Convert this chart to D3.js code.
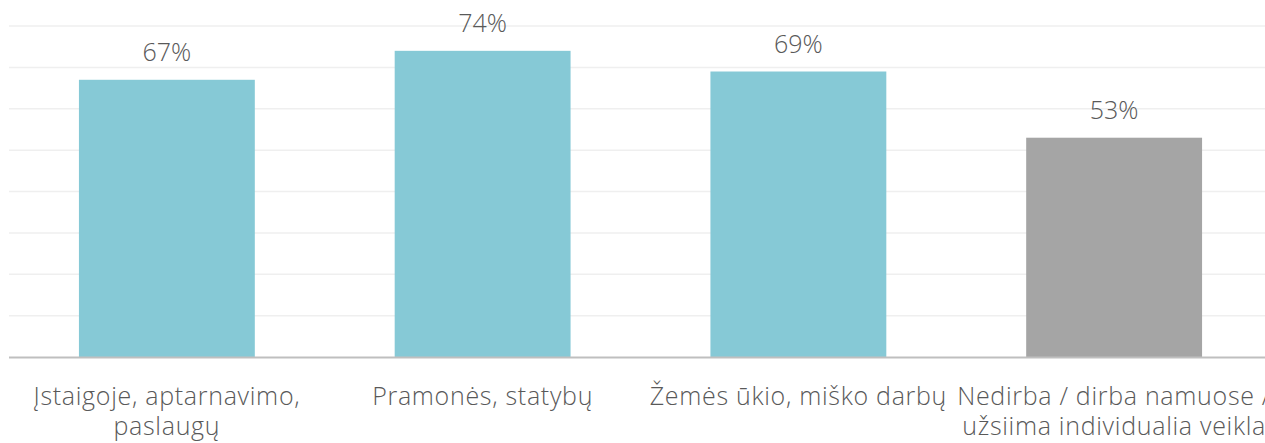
<!DOCTYPE html>
<html>
<head>
<meta charset="utf-8">
<script src="https://cdn.jsdelivr.net/npm/d3@7"></script>
<style>
  body { margin: 0; background: #fff; overflow: hidden; }
  text { font-family: "Open Sans", sans-serif; font-weight: 300; fill: #595959; }
</style>
</head>
<body>
<div id="chart"></div>
<script>
var categories = ["Įstaigoje, aptarnavimo, paslaugų", "Pramonės, statybų", "Žemės ūkio, miško darbų", "Nedirba / dirba namuose / užsiima individualia veikla"];
var values = [67, 74, 69, 53];
var barColors = ["#86c9d6", "#86c9d6", "#86c9d6", "#a5a5a5"];
var gridTicks = [0, 10, 20, 30, 40, 50, 60, 70, 80];

var width = 1265,
    height = 443;

var svg = d3.select("#chart").append("svg")
    .attr("width", width)
    .attr("height", height);

var x = d3.scaleBand()
    .domain(categories)
    .range([9, 1272])
    .paddingInner(0.443)
    .paddingOuter(0.2215);

var y = d3.scaleLinear()
    .domain([0, 80])
    .range([357, 26]);

// gridlines
svg.append("g")
  .selectAll("line")
  .data(gridTicks.slice(1))
  .enter().append("line")
    .attr("x1", 9)
    .attr("x2", width)
    .attr("y1", function(d) { return y(d); })
    .attr("y2", function(d) { return y(d); })
    .attr("stroke", "#efefef")
    .attr("stroke-width", 1.5);

// bars
svg.append("g")
  .selectAll("rect")
  .data(values)
  .enter().append("rect")
    .attr("x", function(d, i) { return x(categories[i]); })
    .attr("y", function(d) { return y(d); })
    .attr("width", x.bandwidth())
    .attr("height", function(d) { return y(0) - y(d); })
    .attr("fill", function(d, i) { return barColors[i]; });

// baseline
svg.append("line")
    .attr("x1", 9)
    .attr("x2", width)
    .attr("y1", y(0) + 0.5)
    .attr("y2", y(0) + 0.5)
    .attr("stroke", "#bfbfbf")
    .attr("stroke-width", 2);

// value labels
svg.append("g")
  .selectAll("text")
  .data(values)
  .enter().append("text")
    .attr("x", function(d, i) { return x(categories[i]) + x.bandwidth() / 2; })
    .attr("y", function(d) { return y(d) - 19; })
    .attr("text-anchor", "middle")
    .attr("font-size", 25)
    .text(function(d) { return d + "%"; });

// category labels, wrapped to band step
var labels = svg.append("g")
  .selectAll("text")
  .data(categories)
  .enter().append("text")
    .attr("x", function(d) { return x(d) + x.bandwidth() / 2; })
    .attr("y", 405)
    .attr("text-anchor", "middle")
    .attr("font-size", 25)
    .attr("letter-spacing", 0.7);

labels.each(function(d) {
  var text = d3.select(this),
      words = d.split(" "),
      cx = +text.attr("x"),
      line = [],
      tspan = text.append("tspan").attr("x", cx).attr("dy", 0);
  words.forEach(function(w) {
    line.push(w);
    tspan.text(line.join(" "));
    if (tspan.node().getComputedTextLength() > x.step() + 12 && line.length > 1) {
      line.pop();
      tspan.text(line.join(" "));
      line = [w];
      tspan = text.append("tspan").attr("x", cx).attr("dy", 30).text(w);
    }
  });
});
</script>
</body>
</html>
